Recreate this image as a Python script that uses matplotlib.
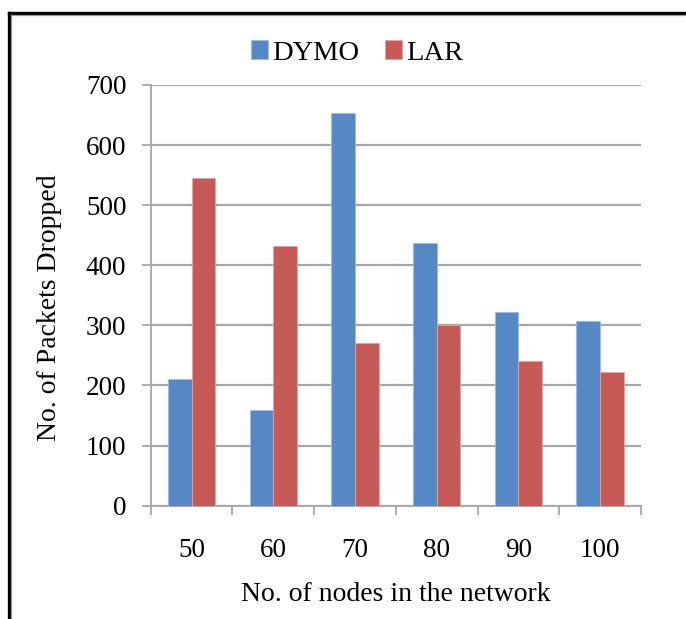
import matplotlib
matplotlib.use('Agg')
import matplotlib.pyplot as plt
from matplotlib.lines import Line2D
import numpy as np

# число узлов в сети и потерянные пакеты для двух протоколов
nodes = ['50', '60', '70', '80', '90', '100']
dymo = [211, 159, 653, 437, 323, 307]
lar = [546, 432, 270, 300, 241, 222]
y_ticks = [0, 100, 200, 300, 400, 500, 600, 700]

blue = '#5588C4'
red = '#C55A56'
grid_gray = '#A6A6A6'

plt.rcParams['font.family'] = ['Liberation Serif', 'DejaVu Serif']

fig = plt.figure(figsize=(6.86, 6.19), dpi=100)
ax = fig.add_axes([150.7 / 686, 1 - 505.7 / 619, (641 - 150.7) / 686, (505.7 - 85) / 619])

x = np.arange(len(nodes))
w = 0.29
ax.bar(x - w / 2, dymo, w, color=blue, edgecolor='#9DBDE3', linewidth=0.6, label='DYMO', zorder=3)
ax.bar(x + w / 2, lar, w, color=red, edgecolor='#E5A5A3', linewidth=0.6, label='LAR', zorder=3)

ax.set_xlim(-0.5, len(nodes) - 0.5)
ax.set_ylim(0, 700)
ax.set_yticks(y_ticks)
ax.set_yticklabels([str(v) for v in y_ticks], fontsize=19.5)
ax.yaxis.grid(True, color=grid_gray, linewidth=1.6, zorder=0)

# подписи по центрам групп, штрихи на границах групп
ax.set_xticks(x)
ax.set_xticklabels(nodes, fontsize=19.5)
ax.set_xticks(np.arange(-0.5, len(nodes)), minor=True)
ax.tick_params(axis='x', which='major', length=0, pad=23)
ax.tick_params(axis='x', which='minor', length=6.5, width=1.3, color=grid_gray, direction='out')
ax.tick_params(axis='y', length=6.5, width=1.3, color=grid_gray, pad=11)

for s in ['top', 'right']:
    ax.spines[s].set_visible(False)
for s in ['left', 'bottom']:
    ax.spines[s].set_color(grid_gray)
    ax.spines[s].set_linewidth(1.3)

ax.set_xlabel('No. of nodes in the network', fontsize=20, labelpad=14)
ax.set_ylabel('No. of Packets Dropped', fontsize=20)
ax.yaxis.set_label_coords(-0.18, 0.47)

fig.legend(loc='center', bbox_to_anchor=(357 / 686, 1 - 53 / 619), ncol=2, frameon=False,
           fontsize=20.5, handlelength=0.6, handleheight=0.6, handletextpad=0.15, columnspacing=0.9)

# рамка вокруг рисунка
W, H = 686, 619
fig.add_artist(Line2D([8.5 / W, 8.5 / W], [0, 1 - 13 / H], color='black', linewidth=2.4, transform=fig.transFigure))
fig.add_artist(Line2D([8.5 / W, 1], [1 - 13 / H, 1 - 13 / H], color='black', linewidth=2.4, transform=fig.transFigure))
fig.add_artist(Line2D([10.8 / W, 10.8 / W], [0, 1 - 15.3 / H], color='#999999', linewidth=0.9, transform=fig.transFigure))
fig.add_artist(Line2D([10.8 / W, 1], [1 - 15.3 / H, 1 - 15.3 / H], color='#999999', linewidth=0.9, transform=fig.transFigure))

fig.savefig('out.png', dpi=100)
